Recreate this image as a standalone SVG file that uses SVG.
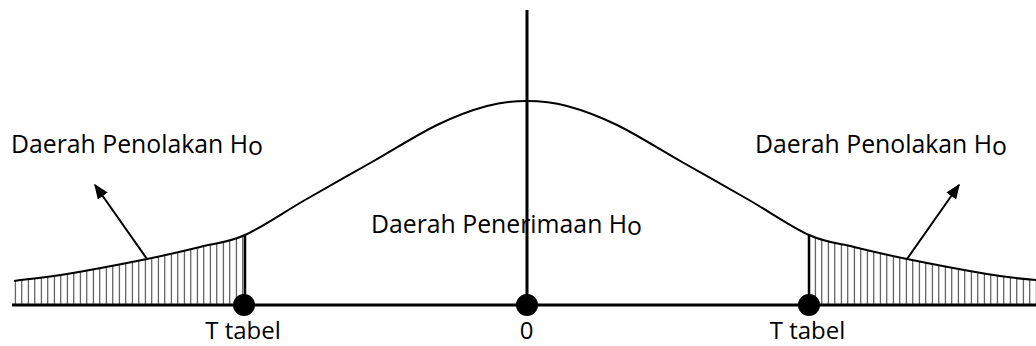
<svg xmlns="http://www.w3.org/2000/svg" width="1036" height="346" viewBox="0 0 1036 346">
<style>
  .lbl { font-family: "Open Sans", "Liberation Sans", sans-serif; font-size: 24.8px; fill: #000; }
  .tick { font-family: "Open Sans", "Liberation Sans", sans-serif; font-size: 24px; fill: #000; }
  .curve { fill: none; stroke: #000; stroke-width: 2; }
  .axis { stroke: #000; stroke-width: 3; fill: none; }
  .edge { stroke: #000; stroke-width: 2.5; }
  .ptr { stroke: #000; stroke-width: 2; fill: none; marker-end: url(#ah); }
  .dot { fill: #000; }
</style>
<defs>
  <marker id="ah" viewBox="0 0 10 10" refX="9" refY="5" markerWidth="15" markerHeight="12" markerUnits="userSpaceOnUse" orient="auto" preserveAspectRatio="none">
    <path d="M0,0 L10,5 L0,10 z" fill="#000"/>
  </marker>
  <pattern id="hatchL" patternUnits="userSpaceOnUse" x="14.8" y="0" width="6.5" height="346">
    <rect x="0" y="0" width="1" height="346" fill="#333"/>
  </pattern>
  <pattern id="hatchR" patternUnits="userSpaceOnUse" x="814.8" y="0" width="6.5" height="346">
    <rect x="0" y="0" width="1" height="346" fill="#333"/>
  </pattern>
</defs>

<g id="hatching">
  <path id="hatch-left" fill="url(#hatchL)" d="M14,281 C31.7,278.7 44.8,277.7 67,274 C89.2,270.3 124.8,263.5 147,259 C169.2,254.5 183.7,251 200,247 C216.3,243 227.5,242.8 245,235 L245,305 L14,305 Z"/>
  <path id="hatch-right" fill="url(#hatchR)" d="M809,235 C826.5,242.8 837.7,243 854,247 C870.3,251 884.8,254.5 907,259 C929.2,263.5 964.8,270.3 987,274 C1009.2,277.7 1022,279 1036,280 L1036,305 L809,305 Z"/>
</g>

<g id="curve">
  <path class="curve" d="M14,281 C31.7,278.7 44.8,277.7 67,274 C89.2,270.3 124.8,263.5 147,259 C169.2,254.5 183.7,251 200,247 C216.3,243 227.5,242.8 245,235 C262.5,227.2 283.8,212.2 305,200 C326.2,187.8 350,174.5 372,162 C394,149.5 417.8,134.3 437,125 C456.2,115.7 472,110 487,106 C502,102 513.7,101 527,101 C540.3,101 552,102 567,106 C582,110 597.8,115.7 617,125 C636.2,134.3 660,149.5 682,162 C704,174.5 727.8,187.8 749,200 C770.2,212.2 791.5,227.2 809,235 C826.5,242.8 837.7,243 854,247 C870.3,251 884.8,254.5 907,259 C929.2,263.5 964.8,270.3 987,274 C1009.2,277.7 1022,279 1036,280"/>
</g>

<g id="label-accept">
  <text class="lbl" x="371" y="233">Daerah Penerimaan H<tspan dy="2">o</tspan></text>
</g>

<g id="connectors">
  <line class="edge" x1="245" y1="235" x2="245" y2="305"/>
  <line class="edge" x1="809" y1="235" x2="809" y2="305"/>
  <line class="axis" x1="12" y1="305" x2="1036" y2="305"/>
  <line class="axis" x1="527" y1="10" x2="527" y2="305"/>
  <line class="ptr" x1="147" y1="259" x2="95" y2="185"/>
  <line class="ptr" x1="907" y1="259" x2="959" y2="185"/>
</g>

<g id="point-left">
  <circle class="dot" cx="244" cy="305" r="11"/>
  <text class="tick" x="243" y="339" text-anchor="middle">T tabel</text>
</g>
<g id="point-zero">
  <circle class="dot" cx="527" cy="305" r="11"/>
  <text class="tick" x="526.5" y="339" text-anchor="middle">0</text>
</g>
<g id="point-right">
  <circle class="dot" cx="809" cy="305" r="11"/>
  <text class="tick" x="807.5" y="339" text-anchor="middle">T tabel</text>
</g>

<g id="label-reject-left">
  <text class="lbl" x="11" y="153">Daerah Penolakan H<tspan dy="2">o</tspan></text>
</g>
<g id="label-reject-right">
  <text class="lbl" x="755" y="153">Daerah Penolakan H<tspan dy="2">o</tspan></text>
</g>
</svg>
